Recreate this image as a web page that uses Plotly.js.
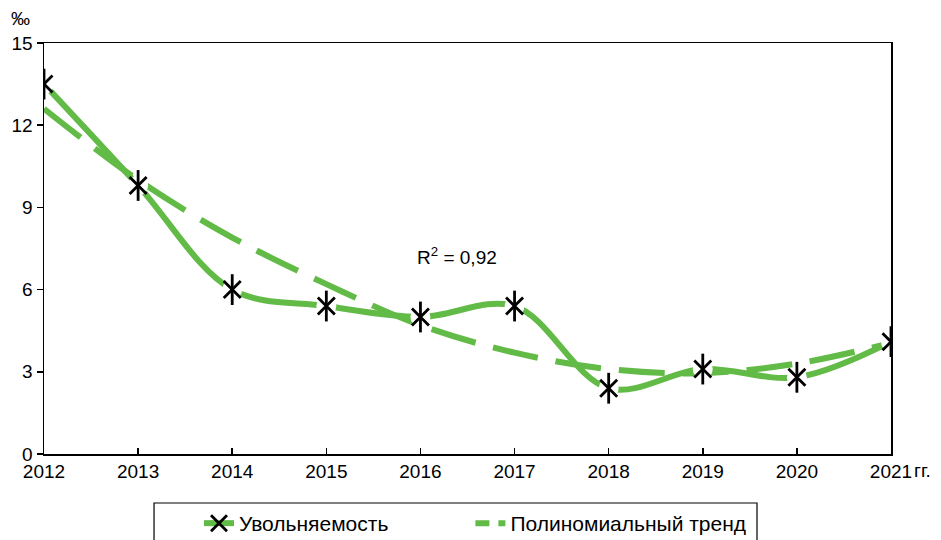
<!DOCTYPE html>
<html>
<head>
<meta charset="utf-8">
<script src="https://cdn.plot.ly/plotly-3.0.1.min.js"></script>
<style>html,body{margin:0;padding:0;background:#fff;}#chart{width:941px;height:540px;}</style>
</head>
<body>
<div id="chart"></div>
<script>
// Data
const years = [2012, 2013, 2014, 2015, 2016, 2017, 2018, 2019, 2020, 2021];
const yearLabels = ['2012', '2013', '2014', '2015', '2016', '2017', '2018', '2019', '2020', '2021'];
const dismissalRate = [13.5, 9.8, 6.0, 5.4, 5.0, 5.4, 2.4, 3.1, 2.8, 4.1];
const trendValues = [12.6, 10.0, 7.9, 6.2, 4.7, 3.7, 3.1, 2.95, 3.3, 4.05];
const seriesName = 'Увольняемость';
const trendName = 'Полиномиальный тренд';
const r2Text = 'R<sup>2</sup> = 0,92';
const yTicks = [0, 3, 6, 9, 12, 15];

const green = '#62bb46';
const fontFam = '"Liberation Sans", Arial, sans-serif';

const traces = [
  { // trend line
    x: years, y: trendValues, mode: 'lines', showlegend: false, hoverinfo: 'skip',
    line: { color: green, width: 6, dash: '46px,18px', shape: 'spline' }
  },
  { // data line
    x: years, y: dismissalRate, mode: 'lines', showlegend: false,
    line: { color: green, width: 6, shape: 'spline' }
  },
  { // white halo under markers
    x: years, y: dismissalRate, mode: 'markers', showlegend: false, hoverinfo: 'skip',
    marker: { symbol: 'circle', size: 20, color: '#ffffff', line: { width: 0 } }
  },
  { // X part of marker
    x: years, y: dismissalRate, mode: 'markers', showlegend: false,
    marker: { symbol: 'x-thin-open', size: 17, color: '#000', line: { color: '#000', width: 2.8 } }
  },
  { // vertical part of marker
    x: years, y: dismissalRate, mode: 'markers', showlegend: false, hoverinfo: 'skip',
    marker: { symbol: 'line-ns-open', size: 22, color: '#000', line: { color: '#000', width: 2.8 } }
  },
  { // legend entry for data
    x: [null], y: [null], mode: 'lines+markers', name: seriesName, legend: 'legend',
    line: { color: green, width: 6 },
    marker: { symbol: 'x-thin-open', size: 17, color: '#000', line: { color: '#000', width: 2.8 } }
  },
  { // legend entry for trend
    x: [null], y: [null], mode: 'lines', name: trendName, legend: 'legend2',
    line: { color: green, width: 6, dash: '14px,9px' }
  }
];

const legendBase = {
  orientation: 'h', xanchor: 'left', y: -0.1192, yanchor: 'top',
  borderwidth: 0, bgcolor: 'rgba(0,0,0,0)',
  font: { family: fontFam, size: 21, color: '#000' }
};

const layout = {
  width: 941, height: 540,
  margin: { l: 44, r: 50, t: 43, b: 86, autoexpand: false },
  paper_bgcolor: '#fff', plot_bgcolor: '#fff',
  font: { family: fontFam, size: 19, color: '#000' },
  xaxis: {
    range: [2012, 2021], tickvals: years, ticktext: yearLabels,
    showgrid: false, zeroline: false, showline: true, linecolor: '#000', linewidth: 1.5, mirror: true,
    ticks: 'inside', ticklen: 6, tickcolor: '#000', tickwidth: 1.5,
    tickfont: { family: fontFam, size: 19, color: '#000' }
  },
  yaxis: {
    range: [0, 15], tickvals: yTicks,
    showgrid: false, zeroline: false, showline: true, linecolor: '#000', linewidth: 1.5, mirror: true,
    ticks: 'outside', ticklen: 6, tickcolor: '#000', tickwidth: 1.5,
    tickfont: { family: fontFam, size: 19, color: '#000' }
  },
  showlegend: true,
  legend: Object.assign({}, legendBase, { x: 0.1830 }),
  legend2: Object.assign({}, legendBase, { x: 0.5034 }),
  shapes: [
    { type: 'rect', xref: 'paper', yref: 'paper', x0: 0.1299, x1: 0.8418, y0: -0.1192, y1: -0.27,
      line: { color: '#000', width: 1.2 }, fillcolor: 'rgba(0,0,0,0)', layer: 'above' }
  ],
  annotations: [
    { text: r2Text, xref: 'x', yref: 'y', x: 2016.39, y: 7.23, showarrow: false,
      font: { family: fontFam, size: 19, color: '#000' } },
    { text: '‰', xref: 'paper', yref: 'paper', x: -0.028, y: 1.06, xanchor: 'center', yanchor: 'middle',
      showarrow: false, font: { family: fontFam, size: 19, color: '#000' } },
    { text: 'гг.', xref: 'paper', yref: 'paper', x: 1.025, y: -0.041, xanchor: 'left', yanchor: 'middle',
      showarrow: false, font: { family: fontFam, size: 19, color: '#000' } }
  ]
};

Plotly.newPlot('chart', traces, layout, { displayModeBar: false, staticPlot: true });
</script>
</body>
</html>
